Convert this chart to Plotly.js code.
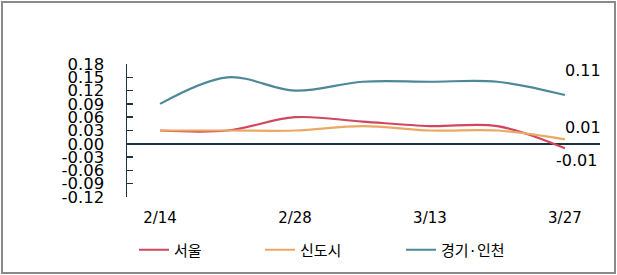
<!DOCTYPE html>
<html><head><meta charset="utf-8">
<script src="https://cdn.plot.ly/plotly-3.0.1.min.js"></script>
<style>
body{margin:0;background:#fff;}
#wrap{position:relative;width:617px;height:275px;}
#chart{width:617px;height:275px;}
#frame{position:absolute;left:1px;top:1px;width:611px;height:269px;border:2px solid #8a8a8a;pointer-events:none;}
</style></head>
<body><div id="wrap"><div id="chart"></div><div id="frame"></div></div>
<script>
const dates = ['2/14','2/21','2/28','3/6','3/13','3/20','3/27'];
const tickDates = ['2/14','2/28','3/13','3/27'];
const seoul = [0.03, 0.03, 0.06, 0.05, 0.04, 0.04, -0.01];
const newTown = [0.03, 0.03, 0.03, 0.04, 0.03, 0.03, 0.01];
const gyeonggi = [0.09, 0.15, 0.12, 0.14, 0.14, 0.14, 0.11];
const names = ['서울','신도시','경기·인천'];
const yTicks = [-0.12,-0.09,-0.06,-0.03,0,0.03,0.06,0.09,0.12,0.15,0.18];
const colors = ['#d1475f','#eba865','#4d8898'];
const series = [seoul, newTown, gyeonggi];
const legends = ['legend','legend2','legend3'];
const traces = series.map((s,i)=>({
  x: dates, y: s, name: names[i], type:'scatter', mode:'lines',
  line:{color:colors[i], width:2.2, shape:'spline', smoothing:1},
  legend: legends[i], showlegend:true
}));
const lastIdx = dates.length-1;
const labelShift = [-12, 12, 25];
const annotations = series.map((s,i)=>({
  x: dates[lastIdx], y: s[lastIdx], xref:'x', yref:'y',
  text: s[lastIdx].toFixed(2), showarrow:false,
  xshift: i===0?12:18, yshift: labelShift[i],
  font:{family:'DejaVu Sans', size:16, color:'#000'}
}));
const legFont = {family:'Noto Sans CJK KR', size:15, color:'#000'};
const legPos = [134, 260, 401];
const layout = {
  width:617, height:275,
  margin:{l:127, r:17, t:64, b:78},
  paper_bgcolor:'#fff', plot_bgcolor:'#fff',
  xaxis:{type:'category', range:[-0.49, 6.52], tickvals:tickDates, ticktext:tickDates,
    showgrid:false, zeroline:false, showline:false, ticks:'', ticklabelstandoff:10,
    tickfont:{family:'DejaVu Sans', size:15, color:'#000'}},
  yaxis:{range:[-0.12,0.18], tickvals:yTicks, ticktext:yTicks.map(v=>v.toFixed(2)),
    showgrid:false, zeroline:true, zerolinecolor:'#1c3342', zerolinewidth:1.5,
    showline:true, linecolor:'#1c3342', linewidth:1.5,
    ticks:'inside', ticklen:6, tickwidth:1.5, tickcolor:'#1c3342', ticklabelstandoff:18,
    tickfont:{family:'DejaVu Sans', size:16.5, color:'#000'}},
  annotations: annotations,
  showlegend:true
};
legends.forEach((lg,i)=>{
  layout[lg] = {orientation:'h', xref:'container', yref:'container',
    x: legPos[i]/617, xanchor:'left', y: 1-250/275, yanchor:'middle',
    font:legFont, bgcolor:'rgba(0,0,0,0)', itemwidth:30};
});
Plotly.newPlot('chart', traces, layout, {displayModeBar:false, staticPlot:true});
</script></body></html>
